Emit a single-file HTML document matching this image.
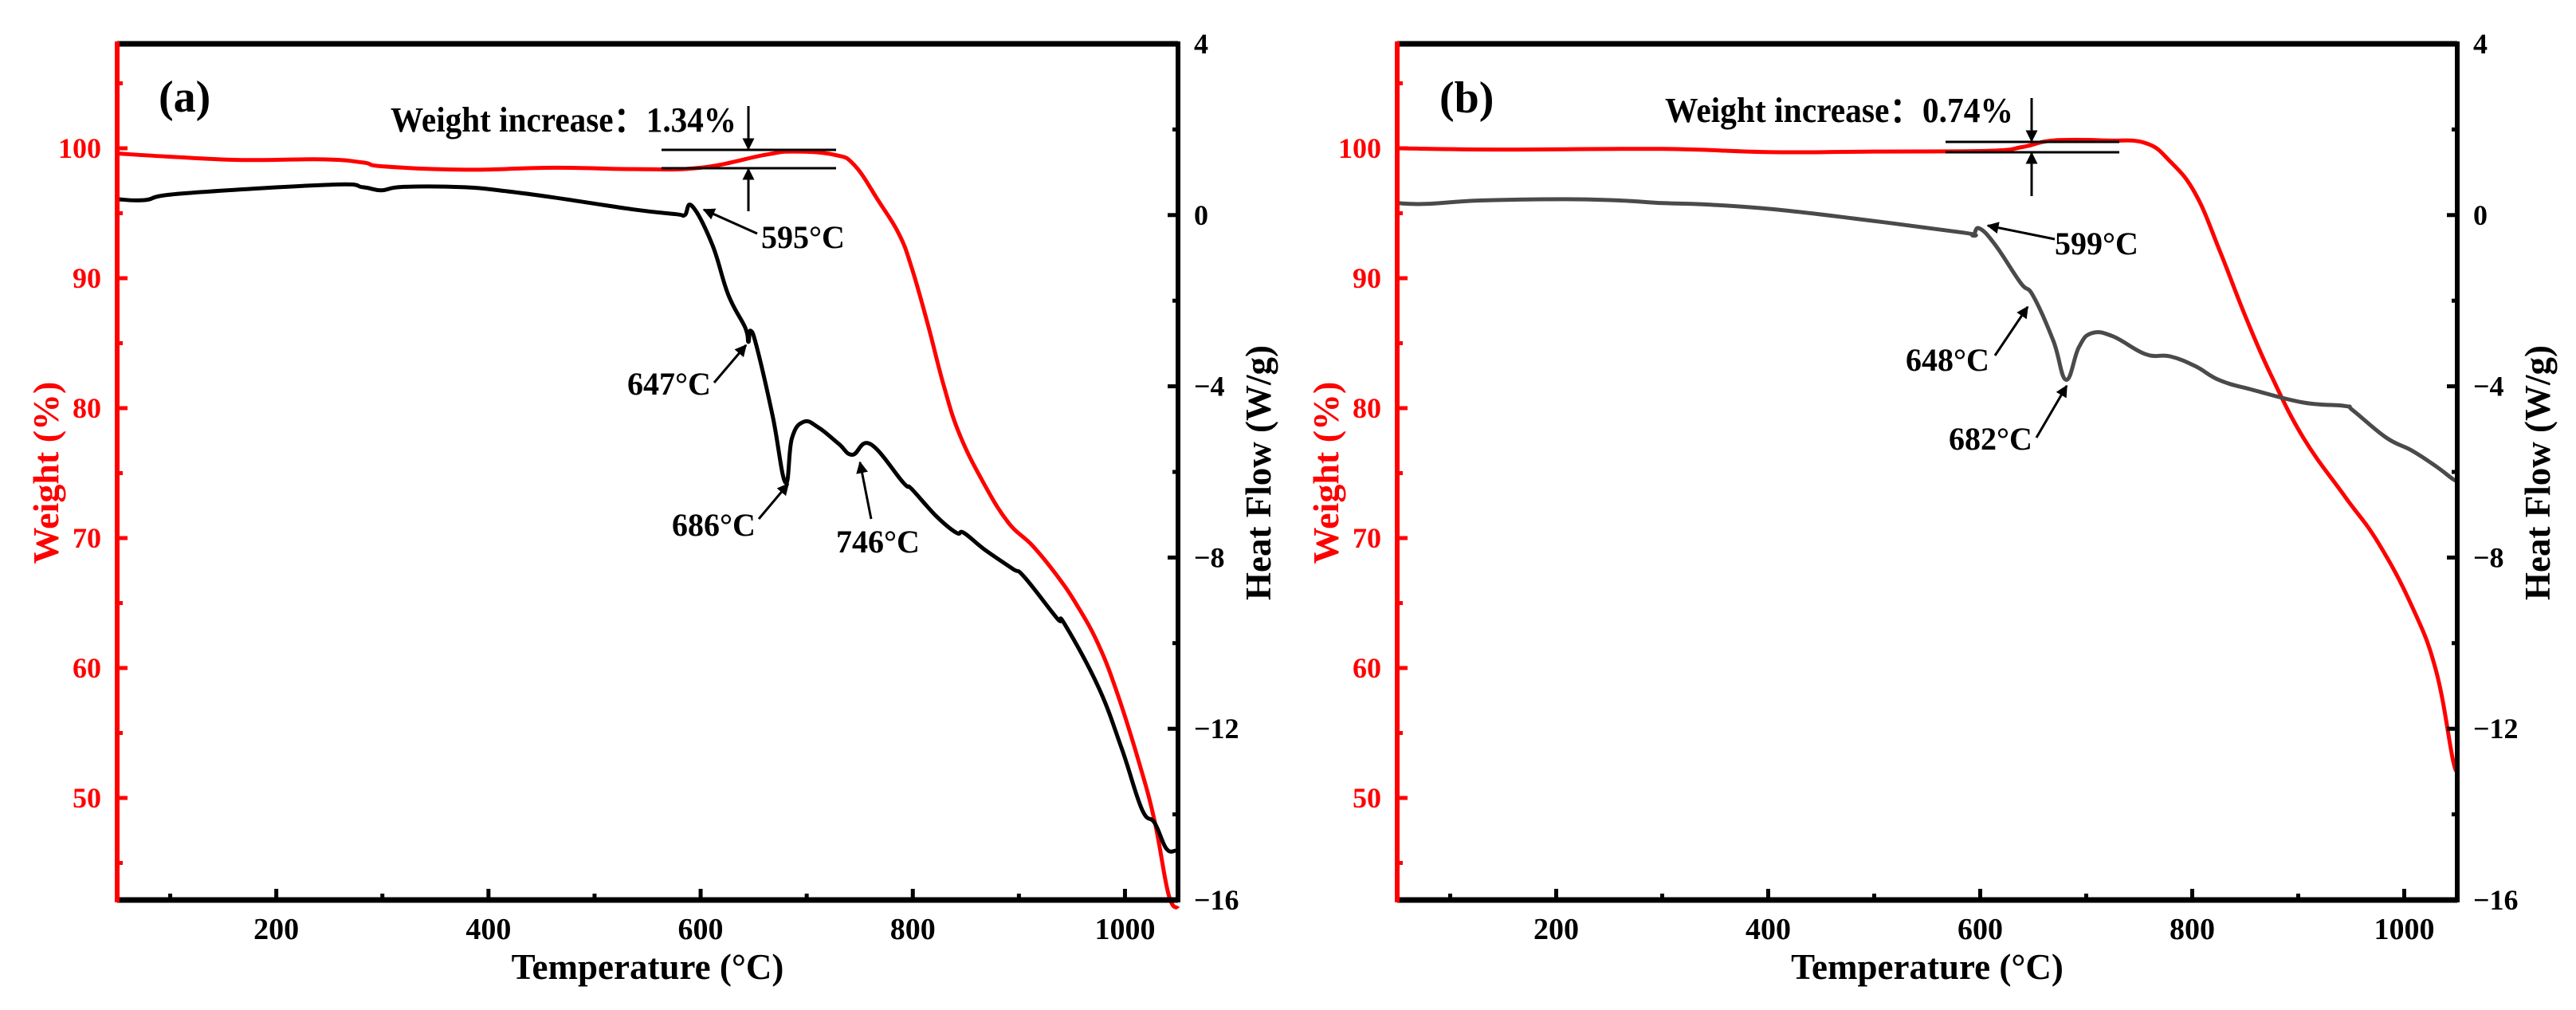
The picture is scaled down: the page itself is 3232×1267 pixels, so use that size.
<!DOCTYPE html>
<html><head><meta charset="utf-8"><style>
html,body{margin:0;padding:0;background:#fff}
svg{display:block;font-family:"Liberation Serif",serif;font-weight:bold}
</style></head><body>
<svg id="chart" width="3232" height="1267" viewBox="0 0 3232 1267" xmlns="http://www.w3.org/2000/svg"></svg>
<script>
// Panel (a) data
const aWeightT = [50,100,168,244,282,301,378,462,537,600,661,688,726,745,768,787,799,814,829,844,867,890,913,936,955,975,993,1013,1028,1041,1050];
const aWeight  = [99.6,99.35,99.1,99.15,98.9,98.6,98.35,98.5,98.4,98.5,99.5,99.75,99.5,98.7,95.9,93.4,90.8,86.5,81.8,78.0,74.2,71.2,69.4,67.1,64.8,61.8,58.0,52.8,48.2,42.6,41.5];
const aHeatT = [50,76,110,251,282,299,320,378,416,462,537,577,585,592,611,626,642,645,647,653,668,680,686,697,711,730,743,760,791,799,822,841,848,867,894,905,936,943,975,997,1016,1028,1039,1048];
const aHeat  = [0.37,0.35,0.5,0.71,0.65,0.58,0.66,0.65,0.56,0.41,0.13,0.02,0.0,0.21,-0.69,-1.86,-2.63,-2.96,-2.7,-3.09,-4.71,-6.25,-5.22,-4.83,-4.96,-5.34,-5.6,-5.35,-6.25,-6.4,-7.03,-7.42,-7.42,-7.8,-8.26,-8.45,-9.42,-9.55,-11.03,-12.47,-13.88,-14.2,-14.8,-14.85];
// Panel (b) data
const bWeightT = [50,150,300,403,500,607,640,669,720,756,779,803,826,850,874,905,944,975,1007,1030,1046,1050];
const bWeight  = [100,99.9,99.95,99.7,99.75,99.8,100.1,100.6,100.6,100.4,99.0,96.5,92.1,87.1,82.6,77.7,73.2,69.7,64.8,59.8,52.9,52.4];
const bHeatT = [50,77,128,207,260,301,340,403,481,584,593,599,614,638,650,669,681,693,705,725,756,779,803,826,858,905,944,952,983,1007,1030,1046,1050];
const bHeat  = [0.28,0.26,0.34,0.37,0.34,0.28,0.25,0.14,-0.08,-0.41,-0.47,-0.31,-0.69,-1.58,-1.89,-2.94,-3.85,-3.09,-2.76,-2.83,-3.25,-3.3,-3.53,-3.86,-4.09,-4.38,-4.46,-4.57,-5.2,-5.5,-5.87,-6.17,-6.2];
// Ticks
const xTicks = [200,400,600,800,1000];
const xMinor = [100,300,500,700,900];
const wTicks = [50,60,70,80,90,100];
const wMinor = [45,55,65,75,85,95,105];
const hTicks = [4,0,-4,-8,-12,-16];
const hMinor = [2,-2,-6,-10,-14];

const NS="http://www.w3.org/2000/svg";
const svg=document.getElementById('chart');
function mk(tag,attrs,parent){const e=document.createElementNS(NS,tag);for(const k in attrs)e.setAttribute(k,attrs[k]);(parent||svg).appendChild(e);return e;}
function txt(s,attrs,parent){const e=mk('text',attrs,parent);e.textContent=s;return e;}
function smooth(pts){
  let d='M'+pts[0][0].toFixed(1)+','+pts[0][1].toFixed(1);
  for(let i=0;i<pts.length-1;i++){
    const p0=pts[Math.max(0,i-1)],p1=pts[i],p2=pts[i+1],p3=pts[Math.min(pts.length-1,i+2)];
    const t=0.2;
    const c1=[p1[0]+(p2[0]-p0[0])*t,p1[1]+(p2[1]-p0[1])*t];
    const c2=[p2[0]-(p3[0]-p1[0])*t,p2[1]-(p3[1]-p1[1])*t];
    d+='C'+c1[0].toFixed(1)+','+c1[1].toFixed(1)+' '+c2[0].toFixed(1)+','+c2[1].toFixed(1)+' '+p2[0].toFixed(1)+','+p2[1].toFixed(1);
  }
  return d;
}

function panel(cfg){
  const g=mk('g',{});
  
  
  const L=cfg.L,R=cfg.R,T=55,B=1129;
  const xs=t=>L+(t-50)/(1000)*(R-L);
  const yw=w=>186+(100-w)*16.3;
  const yh=h=>T+(4-h)/20*(B-T);
  const pw=mk('path',{d:smooth(cfg.wT.map((t,i)=>[xs(t),yw(cfg.w[i])])),fill:'none',stroke:'#ff0000','stroke-width':5,'stroke-linejoin':'round'},g);
  
  
  const ph=mk('path',{d:smooth(cfg.hT.map((t,i)=>[xs(t),yh(cfg.h[i])])),fill:'none',stroke:cfg.hc,'stroke-width':5,'stroke-linejoin':'round'},g);
  
  
  mk('line',{x1:L,y1:T,x2:R,y2:T,stroke:'#000','stroke-width':7},g);
  mk('line',{x1:L,y1:B,x2:R,y2:B,stroke:'#000','stroke-width':7},g);
  mk('line',{x1:R,y1:T-3,x2:R,y2:B+3,stroke:'#000','stroke-width':6},g);
  mk('line',{x1:L,y1:T-3,x2:L,y2:B+3,stroke:'#ff0000','stroke-width':6},g);
  xTicks.forEach(v=>{const x=xs(v);mk('line',{x1:x,y1:B,x2:x,y2:B-14,stroke:'#000','stroke-width':5},g);
    const t=txt(String(v),{x:x,y:1178,'text-anchor':'middle','font-size':38,fill:'#000'},g);
    
    });
  xMinor.forEach(v=>{const x=xs(v);mk('line',{x1:x,y1:B,x2:x,y2:B-8,stroke:'#000','stroke-width':5},g);});
  wTicks.forEach(v=>{const y=yw(v);mk('line',{x1:L,y1:y,x2:L+13,y2:y,stroke:'#ff0000','stroke-width':5},g);
    const t=txt(String(v),{x:L-20,y:y+12,'text-anchor':'end','font-size':36,fill:'#ff0000'},g);
    
    });
  wMinor.forEach(v=>{const y=yw(v);mk('line',{x1:L,y1:y,x2:L+7,y2:y,stroke:'#ff0000','stroke-width':5},g);});
  hTicks.forEach(v=>{const y=yh(v);mk('line',{x1:R,y1:y,x2:R-13,y2:y,stroke:'#000','stroke-width':5},g);
    const t=txt(v<0?'\u2212'+(-v):String(v),{x:R+20,y:y+12,'font-size':36,fill:'#000'},g);
    
    });
  hMinor.forEach(v=>{const y=yh(v);mk('line',{x1:R,y1:y,x2:R-7,y2:y,stroke:'#000','stroke-width':5},g);});
  let t=txt('Temperature (°C)',{x:(L+R)/2,y:1228,'text-anchor':'middle','font-size':45,fill:'#000'},g);
  
  
  t=txt('Weight (%)',{x:0,y:0,'text-anchor':'middle','font-size':46,fill:'#ff0000',transform:`translate(${L-74},593) rotate(-90)`},g);
  
  
  t=txt('Heat Flow (W/g)',{x:0,y:0,'text-anchor':'middle','font-size':45,fill:'#000',transform:`translate(${R+116},593) rotate(-90)`},g);
  
  
  return g;
}

const defs=mk('defs',{});
const mkr=mk('marker',{id:'ah',viewBox:'0 0 10 10',refX:9,refY:5,markerWidth:5,markerHeight:5,orient:'auto-start-reverse',markerUnits:'strokeWidth'},defs);
mk('path',{d:'M0,0 L10,5 L0,10 Z',fill:'#000'},mkr);
function arrow(g,x1,y1,x2,y2,name){const a=mk('line',{x1,y1,x2,y2,stroke:'#000','stroke-width':3,'marker-end':'url(#ah)'},g);
  
  }
function label(g,s,x,y,name,size,len){const at={x,y,'font-size':size||40,fill:'#000'};
  if(len){at.textLength=len;at.lengthAdjust='spacingAndGlyphs';}
  const t=txt(s,at,g);
  
  }

const ga=panel({id:'a',L:147,R:1478,wT:aWeightT,w:aWeight,hT:aHeatT,h:aHeat,hc:'#000'});
label(ga,'(a)',199,140,'panel-label-a',56);
label(ga,'Weight increase：1.34%',490,165,'weight-increase-label-a',44,434);
mk('line',{x1:830,y1:188,x2:1049,y2:188,stroke:'#000','stroke-width':3},ga);
mk('line',{x1:830,y1:211,x2:1049,y2:211,stroke:'#000','stroke-width':3},ga);
arrow(ga,939,133,939,187,'down-arrow-a');arrow(ga,939,265,939,212,'up-arrow-a');
label(ga,'595°C',955,311,'peak-label-595');arrow(ga,950,293,883,263,'arrow-595');
label(ga,'647°C',787,495,'peak-label-647');arrow(ga,896,480,936,433,'arrow-647');
label(ga,'686°C',843,672,'peak-label-686');arrow(ga,952,651,989,607,'arrow-686');
label(ga,'746°C',1049,693,'peak-label-746');arrow(ga,1093,651,1079,580,'arrow-746');

const gb=panel({id:'b',L:1753,R:3083,wT:bWeightT,w:bWeight,hT:bHeatT,h:bHeat,hc:'#4a4a4a'});
label(gb,'(b)',1806,141,'panel-label-b',56);
label(gb,'Weight increase：0.74%',2089,153,'weight-increase-label-b',44,437);
mk('line',{x1:2441,y1:178,x2:2659,y2:178,stroke:'#000','stroke-width':3},gb);
mk('line',{x1:2441,y1:191,x2:2659,y2:191,stroke:'#000','stroke-width':3},gb);
arrow(gb,2549,123,2549,177,'down-arrow-b');arrow(gb,2549,246,2549,192,'up-arrow-b');
label(gb,'599°C',2578,319,'peak-label-599');arrow(gb,2578,300,2494,283,'arrow-599');
label(gb,'648°C',2391,465,'peak-label-648');arrow(gb,2503,446,2544,385,'arrow-648');
label(gb,'682°C',2445,564,'peak-label-682');arrow(gb,2555,549,2593,484,'arrow-682');
</script>
</body></html>
